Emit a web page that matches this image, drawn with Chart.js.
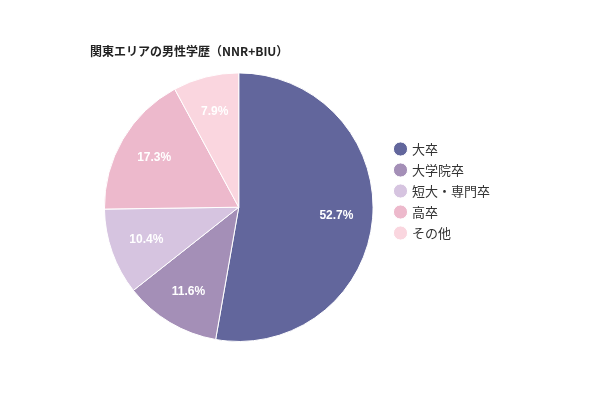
<!DOCTYPE html>
<html><head><meta charset="utf-8">
<script src="https://cdn.jsdelivr.net/npm/chart.js@4"></script>
<style>html,body{margin:0;background:#fff}#w{width:600px;height:400px}</style>
</head><body><div id="w"><canvas id="c"></canvas></div>
<script>
const categories=['大卒','大学院卒','短大・専門卒','高卒','その他'];
const values=[52.7,11.6,10.4,17.3,7.9];
const colors=['#62669c','#a48fb7','#d6c4e0','#edb9cc','#fad6df'];
const labelPlugin={id:'lbl',afterDatasetsDraw(chart){const ctx=chart.ctx;const meta=chart.getDatasetMeta(0);ctx.save();ctx.font='bold 12px "Liberation Sans", Arial, sans-serif';ctx.fillStyle='#fff';ctx.textAlign='center';ctx.textBaseline='middle';meta.data.forEach((a,i)=>{const m=(a.startAngle+a.endAngle)/2;const r=a.outerRadius*0.73;ctx.fillText(values[i].toFixed(1)+'%',a.x+Math.cos(m)*r,a.y+Math.sin(m)*r);});ctx.restore();}};
new Chart(document.getElementById('c'),{type:'pie',data:{labels:categories,datasets:[{data:values,backgroundColor:colors,borderColor:'#fff',borderWidth:1}]},
options:{responsive:true,maintainAspectRatio:false,animation:false,layout:{padding:{left:90,right:100,top:40,bottom:58}},
plugins:{tooltip:{enabled:false},title:{display:true,text:'関東エリアの男性学歴（NNR+BIU）',align:'start',color:'#222',font:{size:12,weight:'bold',family:'"Noto Sans CJK JP", sans-serif'},padding:{top:4,bottom:14}},
legend:{position:'right',labels:{usePointStyle:true,pointStyle:'circle',boxWidth:10,boxHeight:10,padding:8,color:'#333',font:{size:13,family:'"Noto Sans CJK JP", sans-serif'}}}}},plugins:[labelPlugin]});
</script></body></html>
